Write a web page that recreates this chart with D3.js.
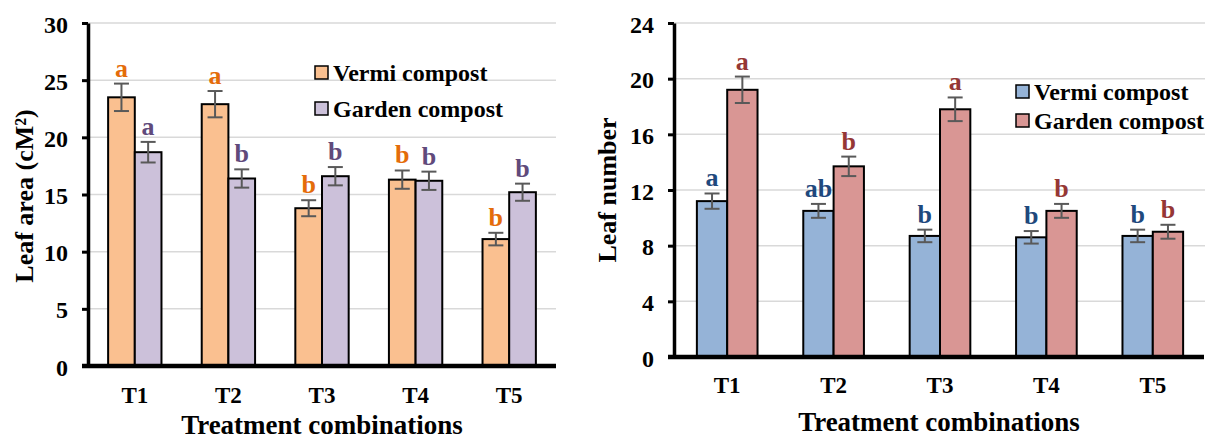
<!DOCTYPE html>
<html>
<head>
<meta charset="utf-8">
<script src="https://cdn.jsdelivr.net/npm/d3@7"></script>
<style>
  html, body { margin: 0; padding: 0; background: #fff; }
  svg { display: block; }
  text { font-family: "Liberation Serif", "Times New Roman", serif; font-weight: bold; }
</style>
</head>
<body>
<svg id="chart" width="1207" height="440"></svg>
<script>
// ---------- DATA ----------
const categories = ["T1", "T2", "T3", "T4", "T5"];
const seriesNames = ["Vermi compost", "Garden compost"];

// Left panel: leaf area (cM²)
const leafAreaVermi = [23.5, 22.9, 13.8, 16.3, 11.1];
const leafAreaVermiErr = [1.2, 1.15, 0.7, 0.8, 0.55];
const leafAreaGarden = [18.7, 16.4, 16.6, 16.2, 15.2];
const leafAreaGardenErr = [0.9, 0.8, 0.8, 0.8, 0.75];
const leafAreaVermiLetters = ["a", "a", "b", "b", "b"];
const leafAreaGardenLetters = ["a", "b", "b", "b", "b"];
const leafAreaTicks = [0, 5, 10, 15, 20, 25, 30];

// Right panel: leaf number
const leafNumVermi = [11.2, 10.5, 8.7, 8.6, 8.7];
const leafNumVermiErr = [0.55, 0.5, 0.45, 0.45, 0.45];
const leafNumGarden = [19.2, 13.7, 17.8, 10.5, 9.0];
const leafNumGardenErr = [0.95, 0.7, 0.85, 0.5, 0.5];
const leafNumVermiLetters = ["a", "ab", "b", "b", "b"];
const leafNumGardenLetters = ["a", "b", "a", "b", "b"];
const leafNumTicks = [0, 4, 8, 12, 16, 20, 24];

// ---------- DRAW ----------
const svg = d3.select("#chart");

function drawPanel(cfg) {
  const g = svg.append("g");
  const x = d3.scaleBand().domain(categories).range([cfg.x0, cfg.x1])
    .paddingInner(0.43).paddingOuter(0.215);
  const xs = d3.scaleBand().domain(seriesNames).range([0, x.bandwidth()]);
  const y = d3.scaleLinear().domain([0, cfg.ticks[cfg.ticks.length - 1]]).range([cfg.yBottom, cfg.yTop]);

  // gridlines
  g.selectAll("line.grid").data(cfg.ticks.filter(t => t > 0)).enter().append("line")
    .attr("x1", cfg.x0).attr("x2", cfg.gridEnd)
    .attr("y1", d => y(d)).attr("y2", d => y(d))
    .attr("stroke", "#d9d9d9").attr("stroke-width", 1.5);

  const rows = categories.map((c, i) => ({
    cat: c,
    vals: [
      { s: seriesNames[0], v: cfg.v1[i], e: cfg.e1[i], l: cfg.l1[i], fill: cfg.fill1, lc: cfg.lc1 },
      { s: seriesNames[1], v: cfg.v2[i], e: cfg.e2[i], l: cfg.l2[i], fill: cfg.fill2, lc: cfg.lc2 }
    ]
  }));

  const grp = g.selectAll("g.cat").data(rows).enter().append("g")
    .attr("transform", d => `translate(${x(d.cat)},0)`);

  const bars = grp.selectAll("g.bar").data(d => d.vals).enter().append("g");
  bars.append("rect")
    .attr("x", d => xs(d.s)).attr("width", xs.bandwidth())
    .attr("y", d => y(d.v)).attr("height", d => y(0) - y(d.v))
    .attr("fill", d => d.fill).attr("stroke", "#000").attr("stroke-width", 2);

  const cx = d => xs(d.s) + xs.bandwidth() / 2;
  const capW = 7.5;
  bars.append("line").attr("x1", cx).attr("x2", cx)
    .attr("y1", d => y(d.v + d.e)).attr("y2", d => y(d.v - d.e))
    .attr("stroke", "#595959").attr("stroke-width", 2);
  bars.append("line").attr("x1", d => cx(d) - capW).attr("x2", d => cx(d) + capW)
    .attr("y1", d => y(d.v + d.e)).attr("y2", d => y(d.v + d.e))
    .attr("stroke", "#595959").attr("stroke-width", 2);
  bars.append("line").attr("x1", d => cx(d) - capW).attr("x2", d => cx(d) + capW)
    .attr("y1", d => y(d.v - d.e)).attr("y2", d => y(d.v - d.e))
    .attr("stroke", "#595959").attr("stroke-width", 2);
  bars.append("text")
    .attr("x", cx).attr("y", d => y(d.v + d.e) - 7)
    .attr("text-anchor", "middle").attr("font-size", 26)
    .attr("fill", d => d.lc).text(d => d.l);

  // y axis
  const ya = d3.axisLeft(y).tickValues(cfg.ticks).tickSize(6).tickSizeOuter(0).tickPadding(cfg.tickPad);
  const yg = g.append("g").attr("transform", `translate(${cfg.x0},0)`).call(ya);
  yg.attr("font-family", null);
  yg.select(".domain").attr("stroke", "#000").attr("stroke-width", 3.5);
  yg.selectAll(".tick line").attr("stroke", "#000").attr("stroke-width", 3);
  yg.selectAll(".tick text").attr("font-size", 24).attr("fill", "#000")
    .attr("dy", "0.38em");

  // x axis
  g.append("line").attr("x1", cfg.x0 - 6).attr("x2", cfg.axisEnd)
    .attr("y1", y(0)).attr("y2", y(0)).attr("stroke", "#000").attr("stroke-width", 4.5);
  g.selectAll("text.xl").data(categories).enter().append("text")
    .attr("x", d => x(d) + x.bandwidth() / 2).attr("y", cfg.xLabelY)
    .attr("text-anchor", "middle").attr("font-size", 23).text(d => d);

  // titles
  g.append("text").attr("x", (cfg.x0 + cfg.axisEnd) / 2).attr("y", cfg.xTitleY)
    .attr("text-anchor", "middle").attr("font-size", 27).text("Treatment combinations");
  g.append("text").attr("transform", `translate(${cfg.yTitleX},${cfg.yTitleY}) rotate(-90)`)
    .attr("text-anchor", "middle").attr("font-size", 26).text(cfg.yTitle);

  // legend
  const lg = g.selectAll("g.leg").data(cfg.legend).enter().append("g")
    .attr("transform", d => `translate(${d.x},${d.y})`);
  lg.append("rect").attr("x", 0).attr("y", -6.5).attr("width", 13).attr("height", 13)
    .attr("fill", d => d.fill).attr("stroke", "#000").attr("stroke-width", 1.5);
  lg.append("text").attr("x", 18).attr("y", 8).attr("font-size", 24).text(d => d.name);
}

drawPanel({
  x0: 88, x1: 556, gridEnd: 556, axisEnd: 556, yBottom: 366, yTop: 23,
  ticks: leafAreaTicks, tickPad: 14,
  v1: leafAreaVermi, e1: leafAreaVermiErr, l1: leafAreaVermiLetters,
  v2: leafAreaGarden, e2: leafAreaGardenErr, l2: leafAreaGardenLetters,
  fill1: "#fac090", fill2: "#ccc1da", lc1: "#e46c0a", lc2: "#604a7b",
  xLabelY: 403, xTitleY: 434, yTitleX: 33, yTitleY: 196,
  yTitle: "Leaf area (cM²)",
  legend: [
    { name: seriesNames[0], fill: "#fac090", x: 315, y: 72.5 },
    { name: seriesNames[1], fill: "#ccc1da", x: 315, y: 108.5 }
  ]
});

drawPanel({
  x0: 674, x1: 1206, gridEnd: 1205, axisEnd: 1204, yBottom: 357, yTop: 23,
  ticks: leafNumTicks, tickPad: 14,
  v1: leafNumVermi, e1: leafNumVermiErr, l1: leafNumVermiLetters,
  v2: leafNumGarden, e2: leafNumGardenErr, l2: leafNumGardenLetters,
  fill1: "#95b3d7", fill2: "#d99694", lc1: "#1f497d", lc2: "#953735",
  xLabelY: 393, xTitleY: 431, yTitleX: 616, yTitleY: 190,
  yTitle: "Leaf number",
  legend: [
    { name: seriesNames[0], fill: "#95b3d7", x: 1016, y: 91.5 },
    { name: seriesNames[1], fill: "#d99694", x: 1016, y: 120.5 }
  ]
});
</script>
</body>
</html>
